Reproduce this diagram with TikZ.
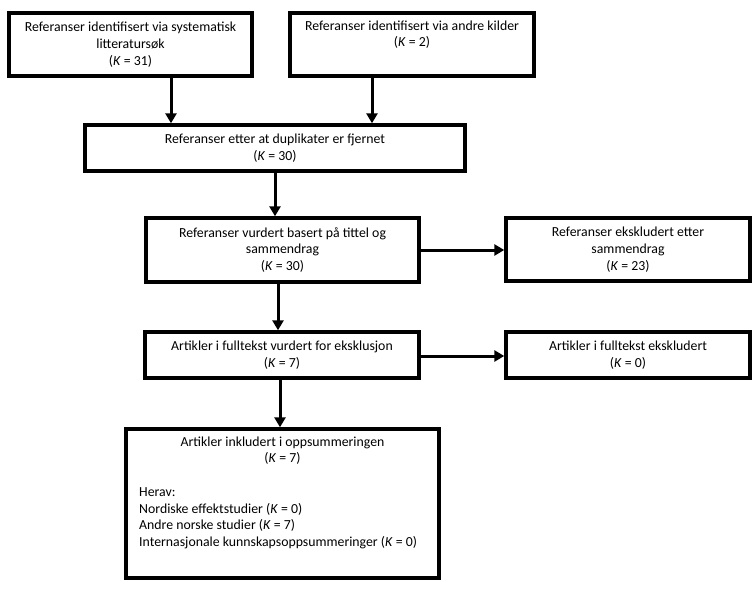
\documentclass[tikz,border=0pt]{standalone}
\usepackage{fontspec}
\setmainfont{Carlito}
\usetikzlibrary{arrows.meta,calc}
\begin{document}
\begin{tikzpicture}[x=1pt,y=-1pt,
  box/.style={draw=black,line width=3.4pt,rectangle,inner sep=0pt,align=center,
    font=\fontsize{13.8}{16.7}\selectfont},
  txt/.style={inner sep=0pt,align=center,font=\fontsize{13.8}{16.7}\selectfont},
  arr/.style={line width=3pt,-{Triangle[width=11pt,length=10pt]}}]
\useasboundingbox (0,0) rectangle (756,594);
\node[box,minimum width=243,minimum height=63] (b1) at (130.5,44.5)
  {Referanser identifisert via systematisk\\litteraturs\o k\\(\textit{K} = 31)};
\node[box,minimum width=244,minimum height=63] (b2) at (412,44.5)
  {Referanser identifisert via andre kilder\\(\textit{K} = 2)\\\strut};
\node[box,minimum width=380,minimum height=46] (b3) at (275,148)
  {Referanser etter at duplikater er fjernet\\(\textit{K} = 30)};
\node[box,minimum width=273,minimum height=64] (b4) at (282.5,250)
  {Referanser vurdert basert p\aa{} tittel og\\sammendrag\\(\textit{K} = 30)};
\node[box,minimum width=244,minimum height=63] (b5) at (628,249.5)
  {Referanser ekskludert etter\\sammendrag\\(\textit{K} = 23)};
\node[box,minimum width=274,minimum height=46] (b6) at (282,355)
  {Artikler i fulltekst vurdert for eksklusjon\\(\textit{K} = 7)};
\node[box,minimum width=244,minimum height=46] (b7) at (628,355)
  {Artikler i fulltekst ekskludert\\(\textit{K} = 0)};
\node[box,minimum width=313,minimum height=149] (b8) at (282.5,503.5) {};
\node[txt,anchor=north] (t8a) at (282.5,436.5)
  {Artikler inkludert i oppsummeringen\\(\textit{K} = 7)};
\node[txt,anchor=north west,align=left] (t8b) at (139,487.5)
  {Herav:\\Nordiske effektstudier (\textit{K} = 0)\\Andre norske studier (\textit{K} = 7)\\Internasjonale kunnskapsoppsummeringer (\textit{K} = 0)};
\coordinate (x1) at (171,0);
\coordinate (x2) at (372,0);
\coordinate (x3) at (275,0);
\coordinate (x4) at (278,0);
\coordinate (x5) at (280,0);
\coordinate (y1) at (0,250);
\coordinate (y2) at (0,356);
\draw[arr] (b1.south -| x1) -- (b3.north -| x1);
\draw[arr] (b2.south -| x2) -- (b3.north -| x2);
\draw[arr] (b3.south -| x3) -- (b4.north -| x3);
\draw[arr] (b4.east |- y1) -- (b5.west |- y1);
\draw[arr] (b4.south -| x4) -- (b6.north -| x4);
\draw[arr] (b6.east |- y2) -- (b7.west |- y2);
\draw[arr] (b6.south -| x5) -- (b8.north -| x5);
\end{tikzpicture}
\end{document}
